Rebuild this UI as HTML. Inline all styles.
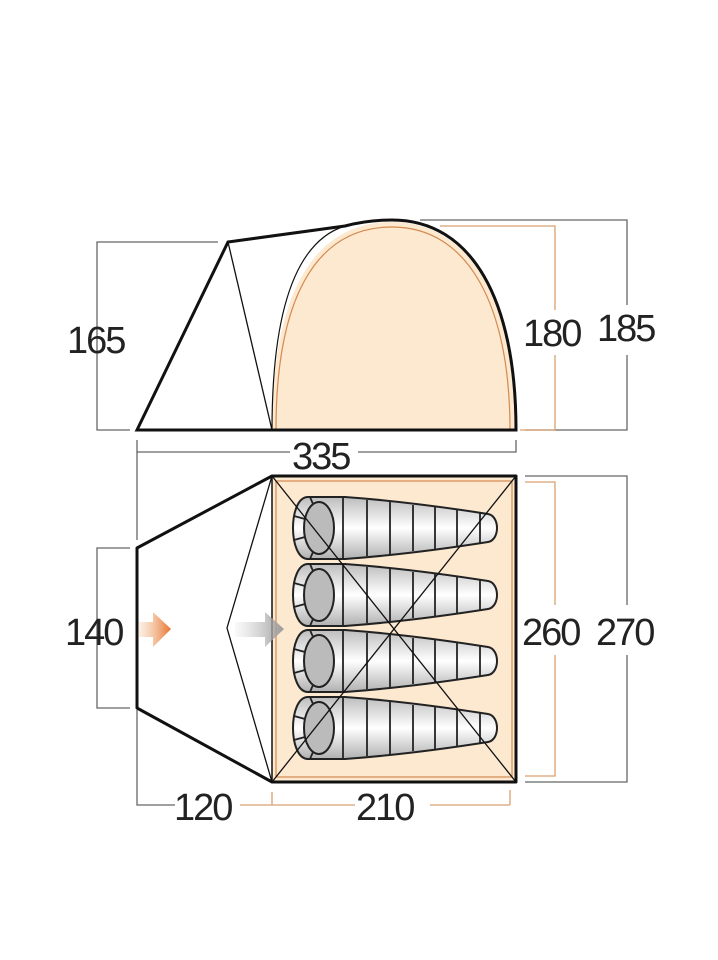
<!DOCTYPE html>
<html><head><meta charset="utf-8"><style>
html,body{margin:0;padding:0;background:#fff;}
svg{display:block}
text{font-family:"Liberation Sans",sans-serif;font-size:38px;fill:#222;letter-spacing:-2px}
</style></head><body>
<svg width="718" height="960" viewBox="0 0 718 960">
<defs>
<linearGradient id="bag" x1="0" y1="0" x2="0" y2="1">
<stop offset="0" stop-color="#bdbdbd"/><stop offset="0.5" stop-color="#ffffff"/><stop offset="1" stop-color="#b0b0b0"/>
</linearGradient>
<linearGradient id="oa" x1="0" x2="1"><stop offset="0" stop-color="#f3c9a6" stop-opacity="0.3"/><stop offset="1" stop-color="#e8722a"/></linearGradient>
<linearGradient id="ga" x1="0" x2="1"><stop offset="0" stop-color="#c8c8c8" stop-opacity="0.1"/><stop offset="1" stop-color="#9a9a9a"/></linearGradient>
<g id="sb">
<path d="M308,-31 L345,-31 C400,-27 450,-20 488,-14 C500,-12 500,12 488,14 C450,20 400,27 345,31 L308,31 C288,31 288,-31 308,-31 Z" fill="url(#bag)" stroke="#222" stroke-width="2"/>
<ellipse cx="319" cy="0" rx="15" ry="26" fill="#bbb" stroke="#222" stroke-width="2"/>
<g stroke="#222" stroke-width="1.8">
<line x1="343" y1="-31" x2="343" y2="31"/><line x1="367" y1="-28" x2="367" y2="28"/>
<line x1="390" y1="-26" x2="390" y2="26"/><line x1="413" y1="-23" x2="413" y2="23"/>
<line x1="435" y1="-21" x2="435" y2="21"/><line x1="457" y1="-18" x2="457" y2="18"/>
<line x1="480" y1="-15" x2="480" y2="15"/>
<line x1="310" y1="-31" x2="313" y2="-24"/><line x1="310" y1="31" x2="313" y2="24"/>
<line x1="294" y1="-12" x2="305" y2="-9"/><line x1="294" y1="12" x2="305" y2="9"/>
</g>
</g>
</defs>

<!-- side view dims -->
<g fill="none" stroke="#666" stroke-width="1.3">
<polyline points="218,242 97,242 97,430 130,430"/>
<polyline points="420,220 627,220 627,430 525,430"/>
<polyline points="137,440 137,452 516,452 516,440"/>
</g>
<polyline points="440,226 555,226 555,430 520,430" fill="none" stroke="#d9a070" stroke-width="1.3"/>

<!-- side view tent -->
<path d="M272,430 C272,300 310,222 392,222 C470,222 516,300 516,430 Z" fill="#fde8d0"/>
<path d="M276,430 C276,305 312,227 392,227 C468,227 510,305 510,430" fill="none" stroke="#d48a50" stroke-width="1.2"/>
<path d="M137,430 L228,242 L345,226 C360,222 375,220 392,220 C472,220 516,300 516,430 Z" fill="none" stroke="#111" stroke-width="3"/>
<path d="M272,430 C272,300 300,240 345,226" fill="none" stroke="#111" stroke-width="1.2"/>
<line x1="228" y1="242" x2="272" y2="430" stroke="#111" stroke-width="1.3"/>
<line x1="137" y1="430" x2="516" y2="430" stroke="#111" stroke-width="3"/>

<rect x="118" y="310" width="20" height="50" fill="#fff"/>
<text x="67" y="353">165</text>
<rect x="520" y="310" width="40" height="45" fill="#fff"/>
<text x="523" y="346">180</text>
<rect x="597" y="305" width="64" height="50" fill="#fff"/>
<text x="597" y="341">185</text>
<rect x="290" y="436" width="68" height="36" fill="#fff"/>
<text x="292" y="469">335</text>

<!-- plan dims -->
<g fill="none" stroke="#666" stroke-width="1.3">
<polyline points="130,548 97,548 97,708 130,708"/>
<polyline points="525,476 627,476 627,782 525,782"/>
<polyline points="137,710 137,805 175,805"/>
<line x1="137" y1="452" x2="137" y2="540"/>
</g>
<g fill="none" stroke="#d9a070" stroke-width="1.3">
<polyline points="525,482 555,482 555,776 525,776"/>
<line x1="240" y1="805" x2="355" y2="805"/>
<line x1="272" y1="792" x2="272" y2="805"/>
<line x1="430" y1="805" x2="510" y2="805"/>
<line x1="510" y1="790" x2="510" y2="805"/>
</g>

<!-- plan tent -->
<rect x="272" y="476" width="244" height="306" fill="#fde8d0"/>
<rect x="276" y="481" width="236" height="296" fill="none" stroke="#d48a50" stroke-width="1.2"/>
<use href="#sb" y="528"/>
<use href="#sb" y="595"/>
<use href="#sb" y="661"/>
<use href="#sb" y="728"/>
<line x1="272" y1="476" x2="516" y2="782" stroke="#111" stroke-width="1.3"/>
<line x1="516" y1="476" x2="272" y2="782" stroke="#111" stroke-width="1.3"/>
<polygon points="272,476 516,476 516,782 272,782 137,708 137,548" fill="none" stroke="#111" stroke-width="3" stroke-linejoin="round"/>
<line x1="272" y1="476" x2="272" y2="782" stroke="#111" stroke-width="1.5"/>
<polyline points="272,476 227,628 272,782" fill="none" stroke="#111" stroke-width="1.3"/>

<polygon points="139,622 153,622 153,612 171,629 153,647 153,637 139,637" fill="url(#oa)"/>
<polygon points="235,622 265,622 265,612 284,629 265,647 265,637 235,637" fill="url(#ga)"/>

<text x="65" y="645">140</text>
<rect x="522" y="605" width="40" height="50" fill="#fff"/>
<text x="522" y="645">260</text>
<rect x="597" y="605" width="64" height="50" fill="#fff"/>
<text x="596" y="645">270</text>
<text x="174" y="820">120</text>
<text x="356" y="820">210</text>
</svg>
</body></html>
